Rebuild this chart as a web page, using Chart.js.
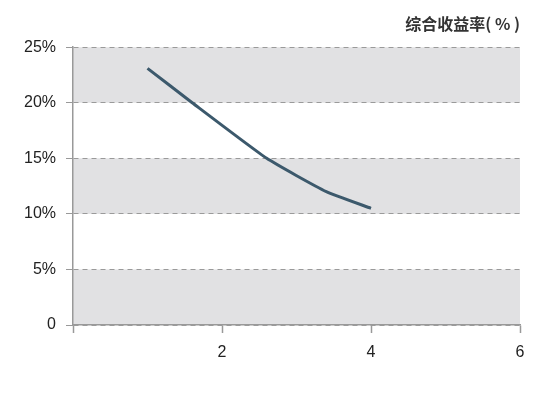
<!DOCTYPE html>
<html>
<head>
<meta charset="utf-8">
<script src="https://cdn.jsdelivr.net/npm/chart.js@4"></script>
<style>
  html, body { margin: 0; padding: 0; background: #fff; }
  #wrap { width: 550px; height: 403px; }
</style>
</head>
<body>
<div id="wrap"><canvas id="chart"></canvas></div>
<script>
// data
const years = [1, 1.6, 2.6, 3.4, 4];
const returns = [23.1, 20, 15, 12, 10.5];
const xTicks = [0, 2, 4, 6];
const yTicks = [0, 5, 10, 15, 20, 25];
const grayBands = [[0, 5], [10, 15], [20, 25]];
const titleText = '综合收益率( % )';

// shaded horizontal bands behind the grid
const bandPlugin = {
  id: 'bands',
  beforeDraw(chart) {
    const { ctx, chartArea, scales } = chart;
    ctx.save();
    ctx.fillStyle = '#e1e1e3';
    grayBands.forEach(b => {
      const top = scales.y.getPixelForValue(b[1]);
      const bottom = scales.y.getPixelForValue(b[0]);
      ctx.fillRect(chartArea.left, top, chartArea.right - chartArea.left, bottom - top);
    });
    ctx.restore();
  }
};

new Chart(document.getElementById('chart'), {
  type: 'line',
  data: {
    datasets: [{
      data: years.map((x, i) => ({ x: x, y: returns[i] })),
      borderColor: '#3c596c',
      borderWidth: 3,
      pointRadius: 0,
      tension: 0.15,
      fill: false
    }]
  },
  options: {
    responsive: true,
    maintainAspectRatio: false,
    animation: false,
    layout: { padding: { left: 0, right: 30, top: 0, bottom: 0 } },
    plugins: {
      legend: { display: false },
      tooltip: { enabled: false },
      title: {
        display: true,
        text: titleText,
        align: 'end',
        color: '#333',
        font: { family: '"Noto Sans CJK SC", sans-serif', size: 16, weight: 'bold' },
        padding: { top: 14, bottom: 14 }
      }
    },
    scales: {
      x: {
        type: 'linear',
        min: 0,
        max: 6,
        afterBuildTicks: s => { s.ticks = xTicks.map(v => ({ value: v })); },
        afterFit: s => { s.height = 78; },
        ticks: {
          callback: v => (v === 0 ? '' : String(v)),
          color: '#222',
          padding: 10,
          font: { family: '"Liberation Sans", Arial, sans-serif', size: 16 }
        },
        grid: { drawOnChartArea: false, tickLength: 8, tickColor: '#999', tickWidth: 1.5 },
        border: { color: '#999', width: 1.5 }
      },
      y: {
        min: 0,
        max: 25,
        afterBuildTicks: s => { s.ticks = yTicks.map(v => ({ value: v })); },
        afterFit: s => { s.width = 73; },
        ticks: {
          callback: v => (v === 0 ? '0' : v + '%'),
          color: '#222',
          padding: 10,
          font: { family: '"Liberation Sans", Arial, sans-serif', size: 16 }
        },
        grid: { color: '#9a9a9a', tickLength: 7, tickColor: '#999', tickBorderDash: [], lineWidth: 1 },
        border: { color: '#999', width: 1.5, dash: [5, 4] }
      }
    }
  },
  plugins: [bandPlugin]
});
</script>
</body>
</html>
